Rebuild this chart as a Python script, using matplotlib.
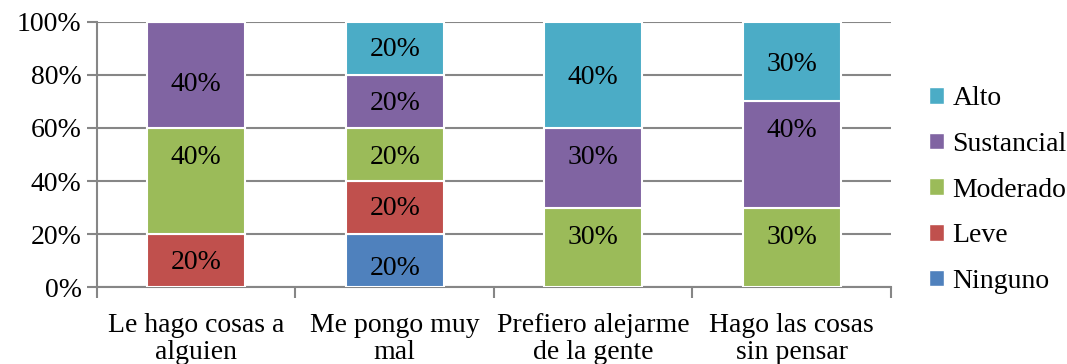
import matplotlib
matplotlib.use("Agg")
import matplotlib.pyplot as plt
import numpy as np
from matplotlib.patches import Patch

categories = ["Le hago cosas a\nalguien", "Me pongo muy\nmal",
              "Prefiero alejarme\nde la gente", "Hago las cosas\nsin pensar"]
series = ["Ninguno", "Leve", "Moderado", "Sustancial", "Alto"]
ninguno = [0, 20, 0, 0]
leve = [20, 20, 0, 0]
moderado = [40, 20, 30, 30]
sustancial = [40, 20, 30, 40]
alto = [0, 20, 40, 30]
yticks = [0, 20, 40, 60, 80, 100]

colors = ["#4F81BD", "#C0504D", "#9BBB59", "#8064A2", "#4BACC6"]
values = [ninguno, leve, moderado, sustancial, alto]

# vertical nudges of the value labels (pixels, positive = downward)
label_nudge = [
    [0, 8, 0, 0],
    [2, 1, 0, 0],
    [-24, 3, -10, -10],
    [10, 2, -10, -24],
    [0, 1.5, 3, 3],
]

plt.rcParams["font.family"] = ["Liberation Serif", "DejaVu Serif"]
FS = 20

fig = plt.figure(figsize=(10.67, 3.64), dpi=100)
ax = fig.add_axes([0.0909, 0.2115, 0.835 - 0.0909, 0.9396 - 0.2115])

x = np.arange(len(categories))
bottom = np.zeros(len(categories))
for name, vals, col, nudge in zip(series, values, colors, label_nudge):
    vals = np.array(vals, dtype=float)
    ax.bar(x, vals, width=0.494, bottom=bottom, color=col,
           edgecolor="white", linewidth=1.5, label=name, zorder=3)
    for xi, v, b, n in zip(x, vals, bottom, nudge):
        if v > 0:
            ax.annotate(f"{int(v)}%", xy=(xi, b + v / 2),
                        xytext=(0, -n * 0.72), textcoords="offset points",
                        ha="center", va="center", fontsize=FS,
                        color="black", zorder=4)
    bottom += vals

ax.set_xlim(-0.5, len(categories) - 0.5)
ax.set_ylim(0, 100)
ax.set_yticks(yticks)
ax.set_yticklabels([f"{t}%" for t in yticks], fontsize=FS)
ax.set_xticks(x)
ax.set_xticklabels(categories, fontsize=FS, linespacing=1.08)
ax.set_xticks(np.arange(-0.5, len(categories)), minor=True)
ax.tick_params(axis="x", which="major", length=0, pad=19)
ax.tick_params(axis="x", which="minor", length=8, color="#868686", width=1.5)
ax.tick_params(axis="y", length=7, color="#868686", width=1.5, pad=4)

ax.grid(axis="y", color="#868686", linewidth=1.5, zorder=0)
for side in ["top", "right"]:
    ax.spines[side].set_visible(False)
for side in ["left", "bottom"]:
    ax.spines[side].set_color("#868686")
    ax.spines[side].set_linewidth(1.5)

handles = [Patch(facecolor=c, edgecolor="white", label=n)
           for n, c in zip(series, colors)][::-1]
leg = fig.legend(handles=handles, loc="center left",
                 bbox_to_anchor=(0.860, 0.478), frameon=False, fontsize=FS,
                 handlelength=0.55, handleheight=0.55, handletextpad=0.3,
                 labelspacing=0.745, borderaxespad=0)

fig.savefig("out.png", dpi=100)
